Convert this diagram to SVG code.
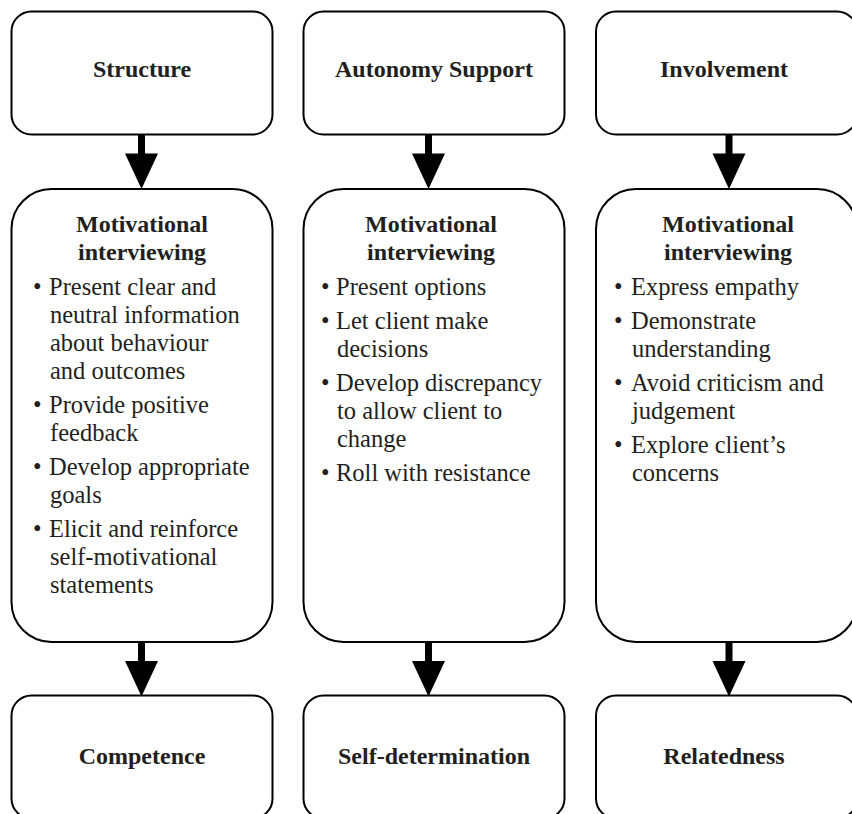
<svg xmlns="http://www.w3.org/2000/svg" width="852" height="814" viewBox="0 0 852 814">
  <style>
    .box { fill: #ffffff; stroke: #000000; stroke-width: 2; }
    .head { font-family: "Liberation Serif", "Times New Roman", serif; font-weight: bold; font-size: 24px; fill: #231f20; text-anchor: middle; }
    .body { font-family: "Liberation Serif", "Times New Roman", serif; font-size: 24.5px; fill: #231f20; }
    .arrow { fill: #000000; }
  </style>
  <defs>
    <!-- thick down arrow: shaft + triangular head, origin at the shaft top centre -->
    <path id="downArrow" class="arrow" d="M -3.5 0 H 3.5 V 19 H 16.5 L 0 54.5 L -16.5 19 H -3.5 Z"/>
  </defs>

  <rect width="852" height="814" fill="#ffffff"/>

  <!-- connectors -->
  <g id="connectors">
    <use href="#downArrow" x="141.5" y="134.5"/>
    <use href="#downArrow" x="428.5" y="134.5"/>
    <use href="#downArrow" x="729" y="134.5"/>
    <use href="#downArrow" x="141.5" y="642"/>
    <use href="#downArrow" x="428.5" y="642"/>
    <use href="#downArrow" x="729" y="642"/>
  </g>

  <!-- top row -->
  <g id="structure">
    <rect class="box" x="11.5" y="11.5" width="261" height="123" rx="20"/>
    <text class="head" x="142" y="77">Structure</text>
  </g>
  <g id="autonomy-support">
    <rect class="box" x="303.5" y="11.5" width="261" height="123" rx="20"/>
    <text class="head" x="434" y="77">Autonomy Support</text>
  </g>
  <g id="involvement">
    <rect class="box" x="596" y="11.5" width="261" height="123" rx="20"/>
    <text class="head" x="724" y="77">Involvement</text>
  </g>

  <!-- middle row -->
  <g id="mi-structure">
    <rect class="box" x="11.5" y="189" width="261" height="453" rx="40"/>
    <text class="head" x="142" y="232">Motivational</text>
    <text class="head" x="142" y="260">interviewing</text>
    <g class="body">
      <text x="33" y="295">•</text>
      <text x="49" y="295">Present clear and</text>
      <text x="50" y="323">neutral information</text>
      <text x="50" y="351">about behaviour</text>
      <text x="50" y="379">and outcomes</text>
      <text x="33" y="413">•</text>
      <text x="49" y="413">Provide positive</text>
      <text x="50" y="441">feedback</text>
      <text x="33" y="475">•</text>
      <text x="49" y="475">Develop appropriate</text>
      <text x="50" y="503">goals</text>
      <text x="33" y="537">•</text>
      <text x="49" y="537">Elicit and reinforce</text>
      <text x="50" y="565">self-motivational</text>
      <text x="50" y="593">statements</text>
    </g>
  </g>
  <g id="mi-autonomy">
    <rect class="box" x="303.5" y="189" width="261" height="453" rx="40"/>
    <text class="head" x="431" y="232">Motivational</text>
    <text class="head" x="431" y="260">interviewing</text>
    <g class="body">
      <text x="321" y="295">•</text>
      <text x="336" y="295">Present options</text>
      <text x="321" y="329">•</text>
      <text x="336" y="329">Let client make</text>
      <text x="337" y="357">decisions</text>
      <text x="321" y="391">•</text>
      <text x="336" y="391">Develop discrepancy</text>
      <text x="337" y="419">to allow client to</text>
      <text x="337" y="447">change</text>
      <text x="321" y="481">•</text>
      <text x="336" y="481">Roll with resistance</text>
    </g>
  </g>
  <g id="mi-involvement">
    <rect class="box" x="596" y="189" width="261" height="453" rx="40"/>
    <text class="head" x="728" y="232">Motivational</text>
    <text class="head" x="728" y="260">interviewing</text>
    <g class="body">
      <text x="614" y="295">•</text>
      <text x="631" y="295">Express empathy</text>
      <text x="614" y="329">•</text>
      <text x="631" y="329">Demonstrate</text>
      <text x="632" y="357">understanding</text>
      <text x="614" y="391">•</text>
      <text x="631" y="391">Avoid criticism and</text>
      <text x="632" y="419">judgement</text>
      <text x="614" y="453">•</text>
      <text x="631" y="453">Explore client’s</text>
      <text x="632" y="481">concerns</text>
    </g>
  </g>

  <!-- bottom row -->
  <g id="competence">
    <rect class="box" x="11.5" y="695.5" width="261" height="123" rx="20"/>
    <text class="head" x="142" y="764">Competence</text>
  </g>
  <g id="self-determination">
    <rect class="box" x="303.5" y="695.5" width="261" height="123" rx="20"/>
    <text class="head" x="434" y="764">Self-determination</text>
  </g>
  <g id="relatedness">
    <rect class="box" x="596" y="695.5" width="261" height="123" rx="20"/>
    <text class="head" x="724" y="764">Relatedness</text>
  </g>
</svg>
